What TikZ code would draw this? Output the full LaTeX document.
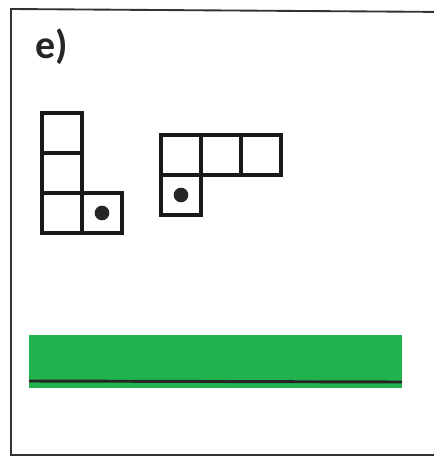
\documentclass[tikz,border=0pt]{standalone}
\usepackage{fontspec}
\setmainfont{Carlito}
\usetikzlibrary{positioning}
\definecolor{bargreen}{RGB}{32,178,76}
\tikzset{
  cell/.style={draw,rectangle,line width=2.5pt,black!90,minimum size=30pt,inner sep=0pt,outer sep=0pt},
  marker/.style={circle,fill,black!85,inner sep=0pt,minimum size=11pt},
  frame/.style={line width=1.4pt,black!80}
}

\begin{document}
\begin{tikzpicture}[x=0.75pt,y=-0.75pt]
  \clip (0,0) rectangle (434,457);
  \draw[frame] (450,12) -- (11,9) -- (11,455) -- (450,455);
  \node[anchor=base west,font=\bfseries\fontsize{30}{33}\selectfont,black!85] (lab) at (31,58) {e)};

  % L-shape, left
  \node[cell] (a1) at (62,133) {};
  \node[cell,below=0pt of a1] (a2) {};
  \node[cell,below=0pt of a2] (a3) {};
  \node[cell,right=0pt of a3] (a4) {};
  \node[marker] (d1) at (a4) {};

  % L-shape, right
  \node[cell] (b1) at (181,155) {};
  \node[cell,right=0pt of b1] (b2) {};
  \node[cell,right=0pt of b2] (b3) {};
  \node[cell,below=0pt of b1] (b4) {};
  \node[marker] (d2) at (b4) {};

  % green bar
  \fill[bargreen] (29,335) rectangle (402,388);
  \draw[line width=2.2pt,black!85] (29,381) -- (402,382);
\end{tikzpicture}
\end{document}
